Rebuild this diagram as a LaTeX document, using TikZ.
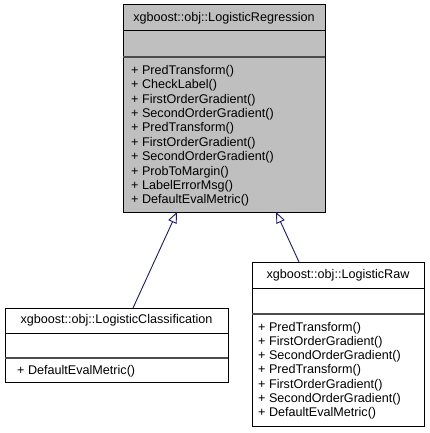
\documentclass[tikz,border=0pt]{standalone}
\usepackage{fontspec}
\setmainfont{Liberation Sans}
\usetikzlibrary{arrows.meta}
\definecolor{edgeblue}{HTML}{191970}
\definecolor{boxgray}{HTML}{BFBFBF}
\tikzset{
  x=1pt,y=-1pt,
  classbox/.style={draw=black,line width=1pt,anchor=north west,inner sep=0pt,outer sep=0pt},
  sepline/.style={draw=black,line width=1pt},
  sepline2/.style={draw=black!70,line width=1.4pt},
  ttl/.style={font=\fontsize{12.6}{14}\selectfont,inner sep=0pt,anchor=center},
  mth/.style={font=\fontsize{12.6}{14}\selectfont,inner sep=0pt,anchor=west},
  inherit/.style={draw=edgeblue,line width=0.9pt,-{Triangle[open,fill=white,length=11pt,width=9pt]}}
}
\begin{document}
\begin{tikzpicture}
\useasboundingbox (0,0) rectangle (429,433);
% top class
\node[classbox,fill=boxgray,minimum width=202pt,minimum height=207pt] (base) at (123,5) {};
\draw[sepline] (123,31) -- (325,31);
\draw[sepline2] (123,57) -- (325,57);
\node[ttl] (baset) at (224,18.5) {xgboost::obj::LogisticRegression};
\foreach \t [count=\i from 0] in {PredTransform(),CheckLabel(),FirstOrderGradient(),SecondOrderGradient(),PredTransform(),FirstOrderGradient(),SecondOrderGradient(),ProbToMargin(),LabelErrorMsg(),DefaultEvalMetric()}
  \node[mth] (bm\i) at (131,71+14.4*\i) {+ \t};
% left child
\node[classbox,fill=white,minimum width=223pt,minimum height=74pt] (cls) at (5,308) {};
\draw[sepline] (5,333) -- (228,333);
\draw[sepline2] (5,358) -- (228,358);
\node[ttl] (clst) at (116.5,320.5) {xgboost::obj::LogisticClassification};
\node[mth] (clsm) at (17,371) {+ DefaultEvalMetric()};
% right child
\node[classbox,fill=white,minimum width=172pt,minimum height=164pt] (raw) at (252,262) {};
\draw[sepline] (252,288) -- (424,288);
\draw[sepline2] (252,314) -- (424,314);
\node[ttl] (rawt) at (338,275) {xgboost::obj::LogisticRaw};
\foreach \t [count=\i from 0] in {PredTransform(),FirstOrderGradient(),SecondOrderGradient(),PredTransform(),FirstOrderGradient(),SecondOrderGradient(),DefaultEvalMetric()}
  \node[mth] (rm\i) at (258,328+14.2*\i) {+ \t};
% inheritance arrows
\coordinate (clsA) at (133,308);
\coordinate (baseA) at (177,212);
\coordinate (rawA) at (299,262);
\coordinate (baseB) at (276,212);
\draw[inherit] (clsA) -- (baseA);
\draw[inherit] (rawA) -- (baseB);
\end{tikzpicture}
\end{document}
